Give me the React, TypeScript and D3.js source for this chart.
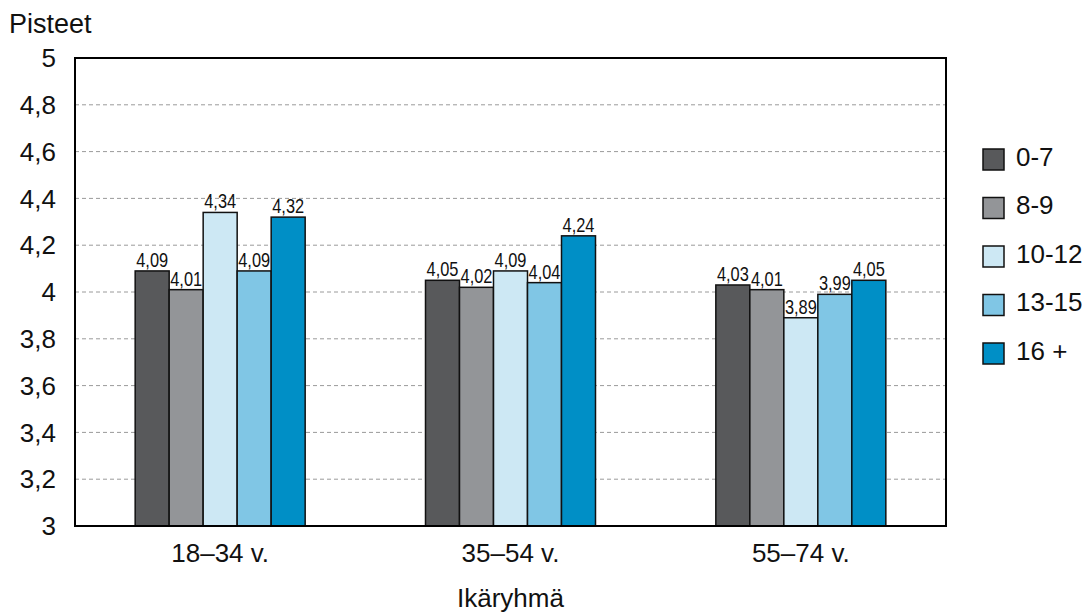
import React from "react";
import * as d3 from "d3";

const categories = ["18–34 v.", "35–54 v.", "55–74 v."];
const seriesNames = ["0-7", "8-9", "10-12", "13-15", "16 +"];
const seriesColors = ["#58595B", "#939598", "#CDE8F4", "#80C6E5", "#008FC6"];
const values = [
  [4.09, 4.01, 4.34, 4.09, 4.32],
  [4.05, 4.02, 4.09, 4.04, 4.24],
  [4.03, 4.01, 3.89, 3.99, 4.05],
];
const yTicks = [3, 3.2, 3.4, 3.6, 3.8, 4, 4.2, 4.4, 4.6, 4.8, 5];

const W = 1091, H = 614;
const L = 75, R = 946, T = 58, B = 526;

export default function App() {
  const y = d3.scaleLinear().domain([3, 5]).range([B, T]);
  const x0 = d3.scaleBand().domain(categories).range([L, R]).paddingInner(0).paddingOuter(0);
  const groupW = x0.bandwidth();
  const barW = 34;
  const x1 = d3.scaleBand().domain(seriesNames).range([0, barW * seriesNames.length]);
  const fmt = (v: number) => v.toFixed(2).replace(".", ",");
  const fmtTick = (v: number) => (Math.round(v * 10) / 10).toString().replace(".", ",");
  const font = "Liberation Sans, Arial, sans-serif";
  const fs = 26;

  return (
    <svg width={W} height={H} style={{ position: "absolute", left: 0, top: 0, background: "#fff" }}>
      <rect x={0} y={0} width={W} height={H} fill="#fff" />
      {yTicks.slice(1, -1).map((t) => (
        <line key={t} x1={L} x2={R} y1={y(t)} y2={y(t)} stroke="#9a9a9a" strokeWidth={1} strokeDasharray="4,3" />
      ))}
      {values.map((row, gi) => {
        const gx = x0(categories[gi])! + (groupW - barW * seriesNames.length) / 2;
        return (
          <g key={gi}>
            {row.map((v, si) => {
              const bx = gx + x1(seriesNames[si])!;
              return (
                <g key={si}>
                  <rect x={bx} y={y(v)} width={x1.bandwidth()} height={B - y(v)} fill={seriesColors[si]} stroke="#111" strokeWidth={1.5} />
                  <text transform={`translate(${bx + x1.bandwidth() / 2}, ${y(v) - 4}) scale(0.82, 1)`} textAnchor="middle" fontFamily={font} fontSize={20} fill="#111">{fmt(v)}</text>
                </g>
              );
            })}
          </g>
        );
      })}
      <rect x={L} y={T} width={R - L} height={B - T} fill="none" stroke="#000" strokeWidth={2} />
      {yTicks.map((t) => (
        <text key={t} x={56} y={y(t)} dy="0.35em" textAnchor="end" fontFamily={font} fontSize={fs} fill="#111">{fmtTick(t)}</text>
      ))}
      {categories.map((c) => (
        <text key={c} x={x0(c)! + groupW / 2} y={562} textAnchor="middle" fontFamily={font} fontSize={fs} fill="#111">{c}</text>
      ))}
      <text x={9} y={32.5} fontFamily={font} fontSize={27} fill="#111">Pisteet</text>
      <text x={(L + R) / 2} y={607} textAnchor="middle" fontFamily={font} fontSize={fs} fill="#111">Ikäryhmä</text>
      {seriesNames.map((s, i) => (
        <g key={s} transform={`translate(983, ${149 + i * 48.5})`}>
          <rect x={0} y={0} width={21} height={21} fill={seriesColors[i]} stroke="#111" strokeWidth={1.5} />
          <text x={33} y={16.5} fontFamily={font} fontSize={fs} fill="#111">{s}</text>
        </g>
      ))}
    </svg>
  );
}
